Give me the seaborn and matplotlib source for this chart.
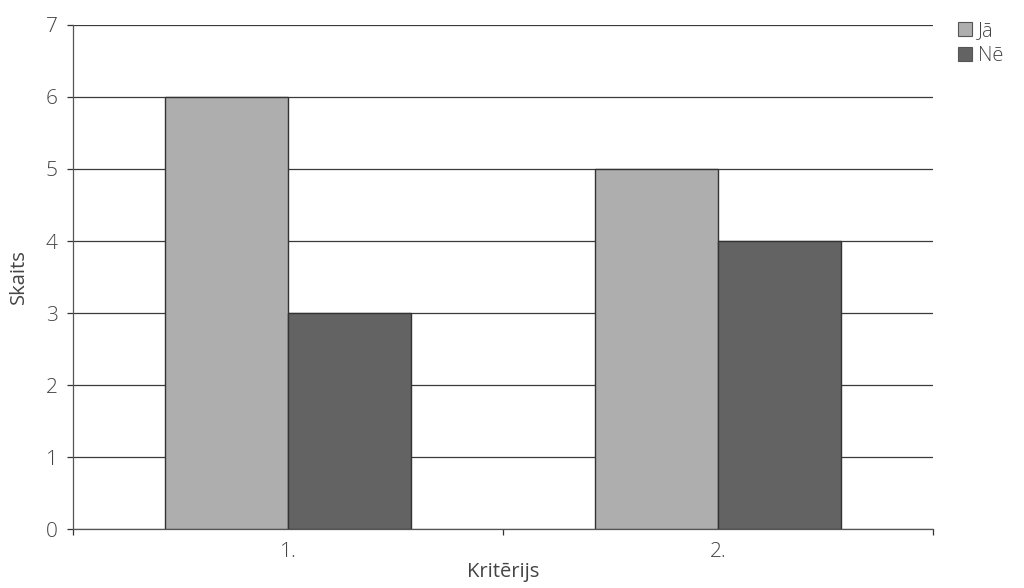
import matplotlib
matplotlib.use("Agg")
import matplotlib.pyplot as plt
from matplotlib import font_manager
from matplotlib.patches import Patch
import seaborn as sns
import pandas as pd

categories = ["1.", "2."]
series_names = ["Jā", "Nē"]
values_ja = [6, 5]
values_ne = [3, 4]
colors = ["#AEAEAE", "#636363"]

df = pd.DataFrame({
    "Kritērijs": categories * 2,
    "Atbilde": [series_names[0]] * len(categories) + [series_names[1]] * len(categories),
    "Skaits": values_ja + values_ne,
})

# prefer a family that ships a light face
light_family = "Open Sans"
for fam in ["Open Sans", "Lato", "Noto Sans", "Roboto", "Inter"]:
    if any(f.name == fam and f.weight in (200, 300, "light", "extra light") for f in font_manager.fontManager.ttflist):
        light_family = fam
        break

sns.set_theme(style="white")
plt.rcParams["font.family"] = [light_family, "DejaVu Sans"]
plt.rcParams["font.weight"] = "light"

fs = 15
txt = "#444444"

fig = plt.figure(figsize=(10.24, 5.88), dpi=100)
ax = fig.add_axes([0.0713, 0.1003, 0.8398, 0.8572])

sns.barplot(data=df, x="Kritērijs", y="Skaits", hue="Atbilde",
            palette=colors, width=0.572, edgecolor="#333333", linewidth=1.0,
            ax=ax, legend=False, zorder=3)

ax.set_xlim(-0.5, 1.5)
ax.set_ylim(0, 7)
ax.set_yticks(range(0, 8))
ax.yaxis.grid(True, color="#3a3a3a", linewidth=0.9, zorder=0)
ax.set_axisbelow(True)

# category boundaries carry the tick marks, labels sit at the centres
ax.set_xticks([-0.5, 0.5, 1.5])
ax.set_xticklabels(["", "", ""])
ax.set_xticks([0, 1], minor=True)
ax.set_xticklabels(categories, minor=True)
ax.tick_params(axis="x", which="major", direction="out", length=4, width=0.9, color="#333333", bottom=True)
ax.tick_params(axis="x", which="minor", length=0, pad=9, labelsize=fs, labelcolor=txt)
ax.tick_params(axis="y", direction="out", length=4, width=0.9, color="#333333", left=True,
               labelsize=fs, labelcolor=txt, pad=7)

for side in ["top", "right"]:
    ax.spines[side].set_visible(False)
for side in ["left", "bottom"]:
    ax.spines[side].set_color("#555555")
    ax.spines[side].set_linewidth(0.9)

ax.set_xlabel("Kritērijs", fontsize=14.5, color=txt, labelpad=0)
ax.set_ylabel("Skaits", fontsize=14.5, color=txt, labelpad=12)

handles = [Patch(facecolor=c, edgecolor="#555555", linewidth=0.8) for c in colors]
fig.legend(handles, series_names, loc="upper left", bbox_to_anchor=(0.918, 0.995),
           frameon=False, fontsize=14.5, handlelength=0.7, handleheight=0.7,
           handletextpad=0.3, labelspacing=0.25, labelcolor=txt)

fig.savefig("out.png", dpi=100)
